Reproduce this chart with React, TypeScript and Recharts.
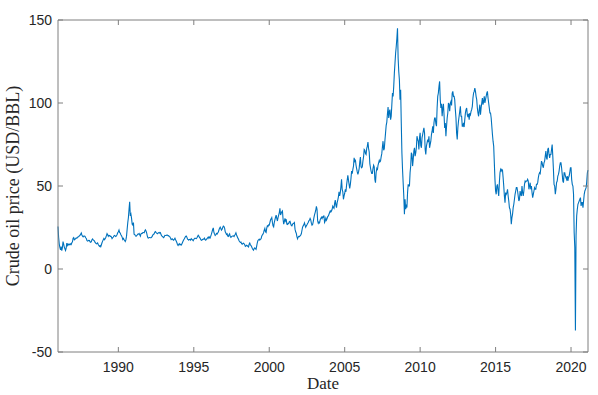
import React from 'react';
import { LineChart, Line, XAxis, YAxis, Label } from 'recharts';

// WTI crude oil price, USD/BBL, two readings per month starting January 1986
const startYear = 1986;
const readingsPerYear = 24;

const prices1986to1990 = [
  25.6, 19.0, 15.0, 13.0, 11.5, 13.5, 11.0, 12.8, 16.5, 15.0, 13.2, 12.2, 11.2, 12.6, 15.6, 14.2, 15.0, 14.5, 15.0, 14.6, 15.2, 14.8, 15.8, 16.4,
  18.5, 18.9, 17.6, 17.9, 18.3, 18.7, 18.6, 18.9, 19.4, 19.6, 20.0, 20.3, 21.0, 21.7, 20.5, 19.8, 19.4, 19.9, 19.9, 19.6, 18.8, 18.4, 17.2, 16.8,
  17.0, 17.3, 17.2, 16.4, 16.1, 16.5, 17.6, 18.1, 17.6, 17.2, 16.9, 16.0, 15.6, 15.2, 15.4, 15.7, 14.8, 14.2, 13.6, 14.0, 13.4, 14.6, 15.8, 16.8,
  17.6, 18.4, 17.7, 18.2, 19.0, 20.1, 21.3, 20.6, 19.7, 20.3, 20.2, 19.6, 19.8, 19.3, 18.3, 18.8, 19.3, 20.0, 20.2, 19.9, 19.6, 20.0, 20.8, 21.8,
  22.5, 23.5, 22.0, 21.6, 20.7, 20.0, 19.2, 17.8, 18.4, 17.7, 17.2, 16.6, 17.5, 19.8, 24.0, 28.0, 31.0, 36.0, 40.5, 32.0, 33.0, 30.5, 27.0, 26.5,
];

const prices1991to1995 = [
  28.0, 21.0, 20.8, 20.2, 19.7, 20.0, 20.5, 21.0, 21.0, 21.4, 20.6, 19.8, 21.2, 21.5, 21.4, 22.0, 22.0, 21.8, 22.9, 23.6, 22.9, 21.8, 20.0, 18.8,
  18.6, 19.0, 19.0, 18.8, 18.8, 19.2, 19.8, 20.6, 20.7, 21.3, 22.2, 22.5, 21.9, 21.6, 21.2, 21.6, 21.8, 22.0, 21.6, 21.9, 20.6, 20.0, 19.6, 19.2,
  18.9, 19.5, 20.3, 20.2, 20.2, 20.4, 20.4, 20.1, 20.0, 19.6, 19.4, 18.6, 17.7, 18.0, 18.1, 17.6, 17.3, 17.9, 18.5, 17.6, 16.9, 16.0, 14.8, 14.2,
  14.8, 15.2, 14.5, 14.9, 14.4, 15.0, 16.0, 16.9, 17.6, 18.2, 19.0, 19.6, 19.9, 19.2, 18.0, 17.8, 17.4, 17.8, 17.9, 17.4, 18.3, 17.9, 17.5, 17.0,
  17.8, 18.3, 18.6, 18.4, 18.3, 18.8, 19.6, 20.3, 19.8, 19.0, 18.6, 17.8, 17.3, 17.5, 17.8, 18.0, 18.0, 18.6, 17.6, 17.3, 17.9, 18.2, 18.8, 19.3,
];

const prices1996to2000 = [
  18.5, 19.3, 18.8, 19.8, 21.0, 22.4, 23.8, 24.8, 22.0, 21.0, 20.2, 20.6, 21.4, 21.0, 21.7, 22.3, 23.5, 24.6, 25.2, 24.4, 23.4, 23.9, 25.0, 25.9,
  25.6, 24.6, 22.4, 21.7, 20.8, 21.2, 19.8, 19.6, 20.6, 21.2, 19.5, 19.0, 19.5, 19.8, 19.9, 20.0, 19.6, 20.3, 20.9, 21.8, 20.5, 19.6, 18.6, 18.0,
  17.0, 16.4, 16.0, 16.2, 15.2, 14.9, 15.4, 15.6, 15.2, 14.6, 13.6, 13.9, 14.3, 14.0, 13.6, 13.3, 14.9, 15.6, 14.6, 14.1, 13.4, 12.5, 11.8, 11.3,
  12.3, 12.7, 12.2, 11.8, 13.8, 15.8, 17.2, 17.6, 18.0, 17.4, 17.9, 18.2, 19.7, 20.5, 21.0, 21.9, 23.4, 24.5, 22.4, 22.0, 24.6, 26.0, 25.6, 26.6,
  26.5, 28.0, 29.5, 30.2, 31.0, 28.2, 26.0, 25.4, 28.0, 29.6, 31.2, 32.5, 30.5, 28.9, 31.0, 32.5, 34.0, 36.5, 32.5, 33.5, 34.5, 35.0, 30.0, 27.0,
];

const prices2001to2005 = [
  28.5, 30.5, 29.0, 30.0, 27.0, 26.8, 27.5, 27.4, 28.6, 28.8, 27.4, 26.3, 26.0, 26.8, 27.4, 27.6, 28.0, 24.0, 22.4, 21.6, 19.5, 18.2, 19.2, 19.6,
  19.5, 20.0, 20.4, 21.2, 23.2, 25.2, 26.0, 26.6, 27.8, 26.4, 25.2, 26.0, 26.6, 27.4, 28.0, 29.0, 29.5, 30.5, 29.6, 27.6, 26.4, 26.8, 28.6, 30.8,
  32.6, 34.0, 35.4, 37.8, 36.0, 29.0, 27.5, 28.2, 27.8, 29.6, 30.5, 31.2, 30.4, 31.4, 31.2, 32.2, 28.0, 28.8, 30.6, 29.4, 30.4, 31.6, 32.0, 33.0,
  34.0, 35.0, 34.4, 35.0, 36.0, 37.8, 37.0, 36.5, 39.5, 41.5, 38.5, 37.0, 40.0, 41.5, 43.5, 46.5, 44.0, 46.0, 49.5, 54.0, 48.0, 46.5, 42.0, 44.0,
  45.5, 48.0, 46.5, 50.5, 53.5, 56.5, 53.5, 51.0, 48.5, 51.0, 54.5, 59.0, 57.5, 60.0, 62.0, 67.0, 65.0, 66.0, 62.5, 60.5, 58.5, 57.0, 58.5, 60.5,
];

const prices2006to2010 = [
  64.5, 67.5, 61.5, 61.0, 61.5, 65.0, 67.5, 72.0, 71.5, 69.5, 69.0, 72.5, 74.0, 76.5, 72.5, 70.5, 63.5, 61.0, 59.0, 57.5, 57.5, 60.5, 62.5, 61.5,
  54.0, 52.0, 58.0, 60.5, 59.5, 62.5, 64.0, 65.5, 64.5, 65.0, 67.5, 69.5, 73.5, 77.0, 71.5, 72.5, 77.5, 82.0, 86.5, 88.5, 93.5, 97.5, 91.0, 95.0,
  96.0, 90.0, 92.0, 99.0, 106.0, 104.0, 110.0, 118.0, 124.0, 130.0, 134.0, 139.0, 145.0, 127.0, 119.0, 114.0, 102.0, 108.0, 88.0, 70.0, 60.0, 52.0, 44.0, 33.0,
  42.0, 36.0, 38.0, 37.0, 46.0, 51.0, 50.0, 50.0, 58.0, 62.0, 70.0, 69.0, 62.0, 66.0, 71.0, 73.0, 68.0, 70.0, 73.0, 80.0, 78.0, 77.0, 72.0, 79.0,
  82.0, 74.5, 73.0, 79.0, 81.0, 83.0, 85.0, 82.0, 72.0, 69.0, 74.0, 76.0, 78.0, 76.5, 80.0, 73.0, 75.0, 77.0, 81.0, 83.0, 86.0, 82.0, 88.0, 91.0,
];

const prices2011to2015 = [
  91.0, 87.5, 86.0, 97.0, 104.0, 106.0, 110.0, 113.0, 102.0, 97.0, 99.5, 92.0, 97.0, 99.5, 93.0, 85.0, 88.0, 80.0, 86.0, 91.0, 94.0, 100.0, 99.0, 95.0,
  100.0, 101.0, 98.5, 106.0, 107.0, 104.0, 104.0, 102.0, 96.0, 91.0, 82.0, 78.0, 85.0, 89.0, 92.0, 95.0, 98.0, 92.0, 92.0, 86.0, 86.0, 88.0, 85.5, 90.0,
  94.0, 96.0, 97.0, 93.0, 91.5, 93.5, 90.0, 94.0, 93.0, 95.0, 96.0, 98.0, 103.0, 106.0, 107.0, 109.0, 107.0, 104.0, 102.0, 97.0, 94.0, 92.0, 96.0, 99.0,
  93.0, 97.0, 100.0, 103.0, 99.0, 101.0, 104.0, 100.0, 102.0, 104.0, 106.0, 107.0, 103.0, 100.0, 97.0, 94.0, 94.0, 91.0, 86.0, 81.0, 77.0, 74.0, 64.0, 54.0,
  47.0, 45.0, 50.0, 51.0, 47.0, 44.0, 52.0, 58.0, 60.0, 59.0, 60.0, 59.5, 55.0, 50.0, 44.0, 40.0, 46.0, 45.0, 46.0, 48.0, 44.0, 41.0, 37.0, 36.0,
];

const prices2016to2020 = [
  33.0, 27.0, 31.0, 33.0, 37.0, 39.0, 42.0, 45.0, 47.0, 49.0, 49.0, 47.0, 44.0, 41.0, 42.0, 47.0, 45.0, 44.0, 50.0, 46.0, 44.0, 47.0, 51.0, 53.0,
  52.5, 53.0, 53.0, 54.0, 53.0, 48.0, 50.0, 52.0, 48.0, 50.0, 46.0, 43.0, 45.0, 47.0, 49.0, 48.0, 48.0, 51.0, 51.0, 52.0, 55.0, 57.0, 58.0, 57.5,
  61.0, 65.0, 64.0, 62.0, 61.0, 64.0, 65.0, 68.0, 71.0, 67.0, 66.0, 72.0, 73.0, 69.0, 67.0, 69.0, 69.0, 72.0, 75.0, 68.0, 60.0, 51.0, 50.0, 45.0,
  48.0, 52.0, 53.0, 56.0, 57.0, 59.0, 62.0, 64.0, 64.0, 61.0, 57.0, 53.0, 52.0, 58.0, 58.0, 56.0, 55.0, 54.0, 56.0, 53.0, 55.0, 56.0, 58.0, 61.0,
  61.0, 54.0, 51.0, 50.0, 45.0, 22.0, 13.0, -37.0, 20.0, 32.0, 36.0, 39.0, 40.0, 41.0, 42.0, 43.0, 38.0, 40.0, 40.0, 37.0, 41.0, 45.0, 47.0, 48.0,
];

const prices2021 = [49.0, 52.5, 58.0, 59.5];

const allPrices = [
  ...prices1986to1990,
  ...prices1991to1995,
  ...prices1996to2000,
  ...prices2001to2005,
  ...prices2006to2010,
  ...prices2011to2015,
  ...prices2016to2020,
  ...prices2021,
];

const data = allPrices.map((price, i) => ({ date: startYear + i / readingsPerYear, price }));

const xTicks = [1990, 1995, 2000, 2005, 2010, 2015, 2020];
const yTicks = [-50, 0, 50, 100, 150];
const xDomain = [1986, 2021.125];
const yDomain = [-50, 150];

const CHART_W = 598;
const CHART_H = 395;
const MARGIN = { top: 20, right: 10, bottom: 0, left: 0 };
const Y_AXIS_W = 58;
const X_AXIS_H = 43;
const PLOT_TOP = MARGIN.top;
const PLOT_RIGHT = CHART_W - MARGIN.right;
const PLOT_LEFT = MARGIN.left + Y_AXIS_W;
const PLOT_BOTTOM = CHART_H - MARGIN.bottom - X_AXIS_H;

const AXIS = '#7f7f7f';
const TEXT = '#262626';
const TICK_FONT = '"Liberation Sans", Arial, Helvetica, sans-serif';
const LABEL_FONT = '"Liberation Serif", "Times New Roman", serif';
const TL = 5;

const BottomTickText = (props: any) => {
  const { x, y, payload } = props;
  return (
    <text x={x} y={y + 2} dy="0.71em" textAnchor="middle" fill={TEXT} fontSize={14} fontFamily={TICK_FONT}>
      {payload.value}
    </text>
  );
};

const LeftTickText = (props: any) => {
  const { x, y, payload } = props;
  return (
    <text x={x + 2} y={y} dy="0.355em" textAnchor="end" fill={TEXT} fontSize={14} fontFamily={TICK_FONT}>
      {payload.value}
    </text>
  );
};

// X-axis title plus the inward tick marks on the bottom and top edges and the top frame line
const XDecor = (props: any) => {
  const vb = props.viewBox || { x: PLOT_LEFT, y: PLOT_BOTTOM, width: PLOT_RIGHT - PLOT_LEFT, height: X_AXIS_H };
  const toX = (t: number) => vb.x + ((t - xDomain[0]) / (xDomain[1] - xDomain[0])) * vb.width;
  return (
    <g>
      <line x1={vb.x} x2={vb.x + vb.width} y1={PLOT_TOP} y2={PLOT_TOP} stroke={AXIS} strokeWidth={1} />
      {xTicks.map((t) => (
        <g key={t}>
          <line x1={toX(t)} x2={toX(t)} y1={vb.y} y2={vb.y - TL} stroke={AXIS} strokeWidth={1} />
          <line x1={toX(t)} x2={toX(t)} y1={PLOT_TOP} y2={PLOT_TOP + TL} stroke={AXIS} strokeWidth={1} />
        </g>
      ))}
      <text x={vb.x + vb.width / 2} y={vb.y + 37} textAnchor="middle" fill={TEXT} fontSize={17} fontFamily={LABEL_FONT}>
        Date
      </text>
    </g>
  );
};

// Y-axis title plus the inward tick marks on the left and right edges and the right frame line
const YDecor = (props: any) => {
  const vb = props.viewBox || { x: 0, y: PLOT_TOP, width: Y_AXIS_W, height: PLOT_BOTTOM - PLOT_TOP };
  const toY = (v: number) => vb.y + ((yDomain[1] - v) / (yDomain[1] - yDomain[0])) * vb.height;
  const axisX = vb.x + vb.width;
  const cx = vb.x + 19;
  const cy = vb.y + vb.height / 2;
  return (
    <g>
      <line x1={PLOT_RIGHT} x2={PLOT_RIGHT} y1={vb.y} y2={vb.y + vb.height} stroke={AXIS} strokeWidth={1} />
      {yTicks.map((v) => (
        <g key={v}>
          <line x1={axisX} x2={axisX + TL} y1={toY(v)} y2={toY(v)} stroke={AXIS} strokeWidth={1} />
          <line x1={PLOT_RIGHT} x2={PLOT_RIGHT - TL} y1={toY(v)} y2={toY(v)} stroke={AXIS} strokeWidth={1} />
        </g>
      ))}
      <text
        x={cx}
        y={cy}
        transform={`rotate(-90, ${cx}, ${cy})`}
        textAnchor="middle"
        fill={TEXT}
        fontSize={18}
        fontFamily={LABEL_FONT}
      >
        Crude oil price (USD/BBL)
      </text>
    </g>
  );
};

export default function App() {
  return (
    <div style={{ position: 'absolute', left: 0, top: 0 }}>
      <LineChart width={CHART_W} height={CHART_H} data={data} margin={MARGIN}>
        <XAxis
          dataKey="date"
          type="number"
          domain={xDomain}
          ticks={xTicks}
          height={X_AXIS_H}
          stroke={AXIS}
          tickLine={false}
          tick={BottomTickText}
        >
          <Label content={XDecor} />
        </XAxis>
        <YAxis
          type="number"
          domain={yDomain}
          ticks={yTicks}
          width={Y_AXIS_W}
          stroke={AXIS}
          tickLine={false}
          tick={LeftTickText}
        >
          <Label content={YDecor} />
        </YAxis>
        <Line
          type="linear"
          dataKey="price"
          stroke="#0072BD"
          strokeWidth={1.1}
          dot={false}
          activeDot={false}
          isAnimationActive={false}
        />
      </LineChart>
    </div>
  );
}
